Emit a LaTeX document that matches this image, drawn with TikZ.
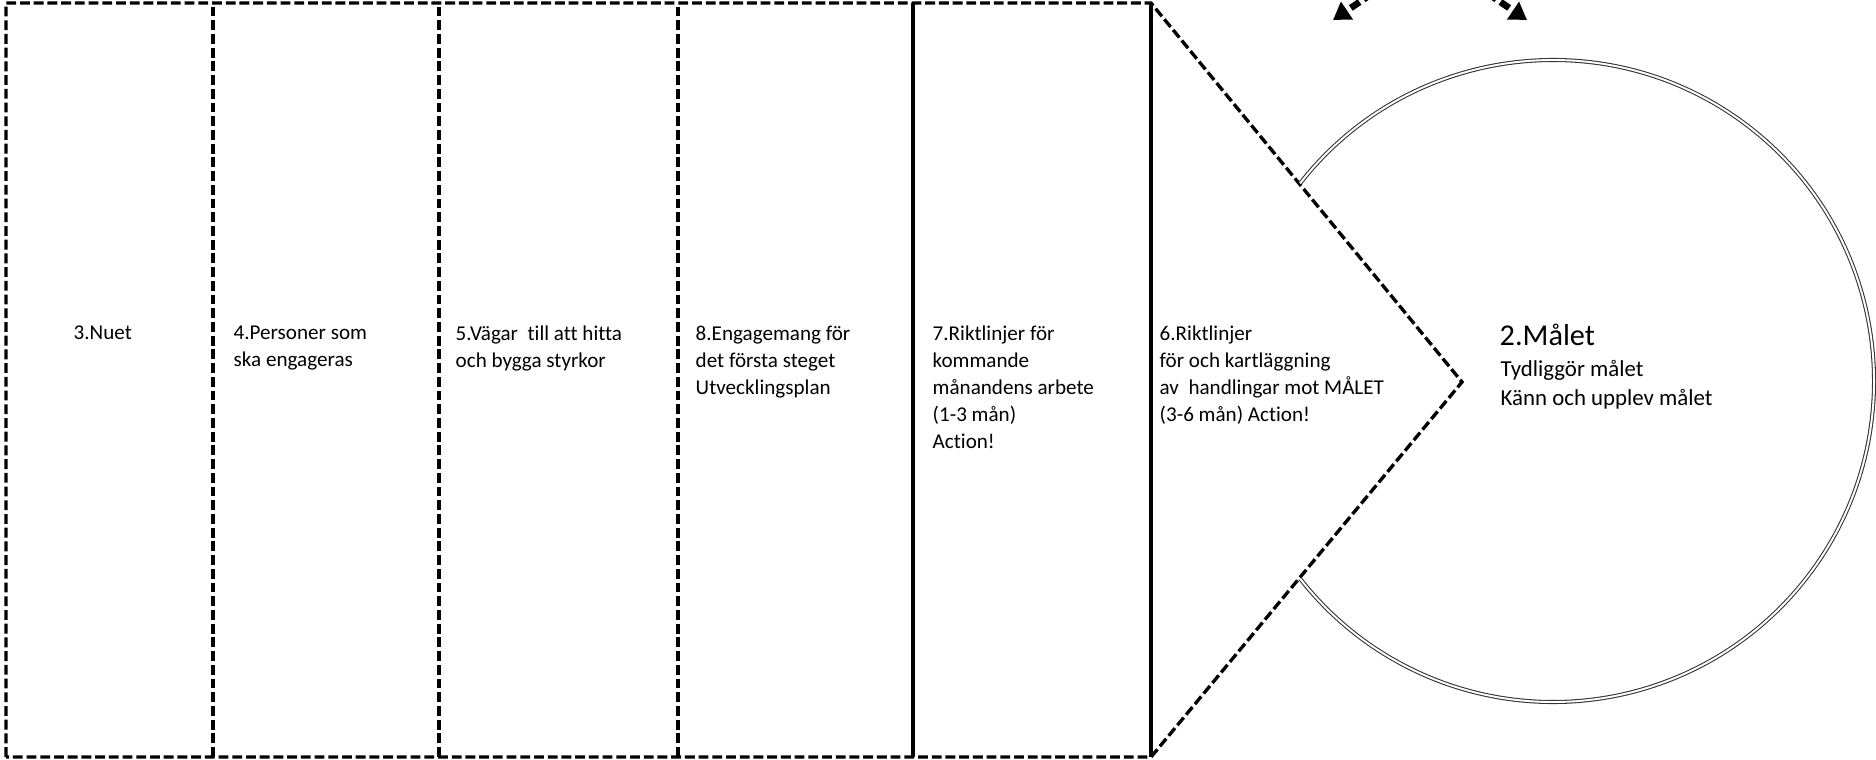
\documentclass[tikz,border=0pt]{standalone}
\usepackage{fontspec}
\setmainfont{Carlito}[Ligatures={NoCommon}]
\usetikzlibrary{arrows.meta}

\tikzset{
  frame/.style={line width=0.95pt, dash pattern=on 2.8pt off 1.1pt},
  divider/.style={line width=0.9pt},
  boxtext/.style={anchor=north west, inner sep=0pt, align=left,
    font=\fontsize{6}{7.7}\selectfont},
  goalring/.style={double, double distance=0.55pt, line width=0.3pt, black!80},
  cyclearrow/.style={line width=1.9pt, dash pattern=on 3pt off 1.4pt,
    -{Triangle[length=4.8pt,width=5.8pt]}}
}

\begin{document}
\begin{tikzpicture}[x=0.01cm, y=0.01cm]
  \useasboundingbox (0,0) rectangle (1876,759);

  % outer frame with the arrow point
  \draw[frame] (6,2) -- (6,756) -- (1151,756) -- (1462,377) -- (1151,2) -- cycle;

  \draw[frame] (213,2) -- (213,756);
  \draw[frame] (439,2) -- (439,756);
  \draw[frame] (678,2) -- (678,756);
  \draw[divider] (913,2) -- (913,756);
  \draw[divider] (1151,2) -- (1151,756);

  % the goal
  \draw[goalring] (1553,378) ++(142:321) arc [start angle=142, end angle=-142, radius=321];

  \coordinate (lstart) at (1398,783);
  \coordinate (ltip) at (1333,739);
  \coordinate (rstart) at (1462,783);
  \coordinate (rtip) at (1527,739);
  \draw[cyclearrow] (lstart) -- (ltip);
  \draw[cyclearrow] (rstart) -- (rtip);

  \node[boxtext] (nuet) at (73,434) {3.Nuet};
  \node[boxtext] (personer) at (233,434) {4.Personer som\\ska engageras};
  \node[boxtext] (vagar) at (455,434) {5.Vägar\ \ till att hitta\\och bygga styrkor};
  \node[boxtext] (engagemang) at (695,434) {8.Engagemang för\\det första steget\\Utvecklingsplan};
  \node[boxtext] (manad) at (932,434) {7.Riktlinjer för\\kommande\\månandens arbete\\(1-3 mån)\\Action!};
  \node[boxtext] (handling) at (1159,434) {6.Riktlinjer\\för och kartläggning\\av\ \ handlingar mot MÅLET\\(3-6 mån) Action!};

  \node[anchor=base west, inner sep=0pt, font=\fontsize{8.6}{10}\selectfont] (malet) at (1499,414) {2.Målet};
  \node[boxtext, font=\fontsize{6.5}{8}\selectfont] (upplev) at (1500,399) {Tydliggör målet\\Känn och upplev målet};

\end{tikzpicture}
\end{document}
